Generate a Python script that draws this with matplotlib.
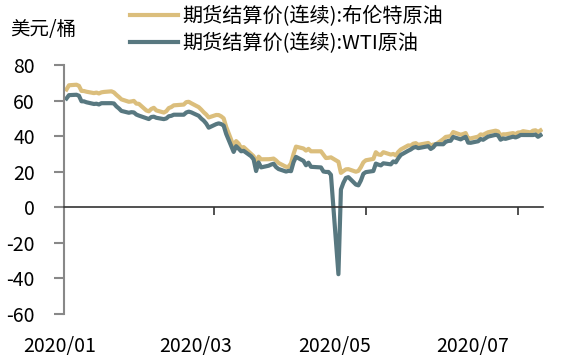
import matplotlib
matplotlib.use('Agg')
from matplotlib import pyplot as plt
import pandas as pd

plt.rcParams['font.family'] = ['Noto Sans CJK SC', 'DejaVu Sans']
plt.rcParams['axes.unicode_minus'] = False

# 日期 (2020)
dates = (
    ['01-02', '01-03', '01-06', '01-07', '01-08', '01-09', '01-10', '01-13', '01-14', '01-15', '01-16',
     '01-17', '01-20', '01-21', '01-22', '01-23', '01-24', '01-27', '01-28', '01-29', '01-30', '01-31'] +
    ['02-03', '02-04', '02-05', '02-06', '02-07', '02-10', '02-11', '02-12', '02-13', '02-14',
     '02-17', '02-18', '02-19', '02-20', '02-21', '02-24', '02-25', '02-26', '02-27', '02-28'] +
    ['03-02', '03-03', '03-04', '03-05', '03-06', '03-09', '03-10', '03-11', '03-12', '03-13', '03-16',
     '03-17', '03-18', '03-19', '03-20', '03-23', '03-24', '03-25', '03-26', '03-27', '03-30', '03-31'] +
    ['04-01', '04-02', '04-03', '04-06', '04-07', '04-08', '04-09', '04-13', '04-14', '04-15', '04-16',
     '04-17', '04-20', '04-21', '04-22', '04-23', '04-24', '04-27', '04-28', '04-29', '04-30'] +
    ['05-01', '05-04', '05-05', '05-06', '05-07', '05-08', '05-11', '05-12', '05-13', '05-14',
     '05-15', '05-18', '05-19', '05-20', '05-21', '05-22', '05-26', '05-27', '05-28', '05-29'] +
    ['06-01', '06-02', '06-03', '06-04', '06-05', '06-08', '06-09', '06-10', '06-11', '06-12', '06-15',
     '06-16', '06-17', '06-18', '06-19', '06-22', '06-23', '06-24', '06-25', '06-26', '06-29', '06-30'] +
    ['07-01', '07-02', '07-03', '07-06', '07-07', '07-08', '07-09', '07-10']
)

brent = (
    [66.25, 68.60, 68.91, 68.27, 65.44, 65.37, 64.98, 64.20, 64.49, 64.00, 64.62,
     64.85, 65.20, 64.59, 63.21, 62.04, 60.69, 59.32, 59.51, 59.81, 58.29, 58.16] +
    [54.45, 53.96, 55.28, 55.93, 54.47, 53.27, 54.01, 55.79, 56.34, 57.32,
     57.67, 57.75, 59.12, 59.31, 58.50, 56.30, 54.95, 53.43, 52.18, 50.52] +
    [51.90, 51.86, 51.13, 49.99, 45.27, 34.36, 37.22, 35.79, 33.22, 33.85, 30.05,
     28.73, 24.88, 28.47, 26.98, 27.03, 27.15, 27.39, 26.34, 24.93, 22.76, 22.74] +
    [24.74, 29.94, 34.11, 33.05, 31.87, 32.84, 31.48, 31.48, 29.60, 27.69, 27.82,
     28.08, 25.57, 19.33, 20.37, 21.33, 21.44, 19.99, 20.46, 22.54, 25.27] +
    [26.44, 27.20, 30.97, 29.72, 29.46, 30.97, 29.63, 29.98, 29.19, 31.13,
     32.50, 34.81, 34.65, 35.75, 36.06, 35.13, 36.17, 34.74, 35.29, 35.33] +
    [38.32, 39.57, 39.79, 39.99, 42.30, 40.80, 41.18, 41.73, 38.55, 38.73, 39.72,
     40.96, 40.71, 41.51, 42.19, 43.08, 42.63, 40.31, 41.05, 41.02, 41.71, 41.15] +
    [42.03, 42.14, 42.80, 42.10, 43.08, 43.29, 42.35, 43.24]
)

wti = (
    [61.18, 63.05, 63.27, 62.70, 59.61, 59.56, 59.04, 58.08, 58.23, 57.81, 58.52,
     58.54, 58.54, 58.38, 56.74, 55.59, 54.19, 53.14, 53.48, 53.33, 52.14, 51.56] +
    [50.11, 49.61, 50.75, 50.95, 50.32, 49.57, 49.94, 51.17, 51.42, 52.05,
     52.05, 52.05, 53.29, 53.78, 53.38, 51.43, 49.90, 48.73, 47.09, 44.76] +
    [46.75, 47.18, 46.78, 45.90, 41.28, 31.13, 34.36, 32.98, 31.50, 31.73, 28.70,
     26.95, 20.37, 25.22, 22.43, 23.36, 24.01, 24.49, 22.60, 21.51, 20.09, 20.48] +
    [20.31, 25.32, 28.34, 26.08, 23.63, 25.09, 22.76, 22.41, 20.11, 19.87, 19.87,
     18.27, -37.63, 10.01, 13.78, 16.50, 16.94, 12.78, 12.34, 15.06, 18.84] +
    [19.78, 20.39, 24.56, 23.99, 23.55, 24.74, 24.14, 25.78, 25.29, 27.56,
     29.43, 31.82, 32.50, 33.49, 33.92, 33.25, 34.35, 32.81, 33.71, 35.49] +
    [35.44, 36.81, 37.29, 37.41, 39.55, 38.19, 38.94, 39.60, 36.34, 36.26, 37.12,
     38.38, 37.96, 38.84, 39.75, 40.73, 40.37, 38.01, 38.72, 38.49, 39.70, 39.27] +
    [39.82, 40.65, 40.65, 40.63, 40.62, 40.90, 39.62, 40.55]
)

x_ticks = ['2020-01-01', '2020-03-01', '2020-05-01', '2020-07-01']
x_labels = ['2020/01', '2020/03', '2020/05', '2020/07']
y_ticks = [-60, -40, -20, 0, 20, 40, 60, 80]

x = pd.to_datetime(['2020-' + d for d in dates])
xmin, xmax = pd.Timestamp('2020-01-01'), pd.Timestamp('2020-07-11')

W, H = 572, 363
fig = plt.figure(figsize=(W / 100, H / 100), dpi=100)
ax = fig.add_axes([64 / W, 1 - 314 / H, (543 - 64) / W, (314 - 65) / H])

l1, = ax.plot(x, brent, color='#DBBE7C', lw=3, solid_joinstyle='round')
l2, = ax.plot(x, wti, color='#587880', lw=3, solid_joinstyle='round')

ax.set_xlim(xmin, xmax)
ax.set_ylim(-60, 80)
ax.set_yticks(y_ticks)
ax.set_yticklabels([str(v) for v in y_ticks], fontsize=14)
ax.tick_params(axis='y', direction='out', length=7, width=1.5, color='#888888', pad=14)

ax.spines['top'].set_visible(False)
ax.spines['right'].set_visible(False)
ax.spines['left'].set_color('#888888')
ax.spines['left'].set_linewidth(1.5)
ax.spines['bottom'].set_position(('data', 0))
ax.spines['bottom'].set_color('#333333')
ax.spines['bottom'].set_linewidth(1.2)
ax.set_xticks(pd.to_datetime(x_ticks))
ax.tick_params(axis='x', direction='out', length=6, width=1.2, color='#333333', labelbottom=False)

# 横轴标签 (原图标签间距比刻度略窄)
axl = fig.add_axes([60 / W, 1 - 314 / H, 435 / W, 0.001])
axl.set_xlim(xmin, xmax)
axl.set_xticks(pd.to_datetime(x_ticks))
axl.set_xticklabels(x_labels, fontsize=14)
axl.tick_params(axis='x', length=0, pad=16)
axl.set_yticks([])
for s in axl.spines.values():
    s.set_visible(False)
axl.patch.set_alpha(0)

fig.text(10 / W, 1 - 30 / H, '美元/桶', fontsize=14, va='center', ha='left')

fig.legend([l1, l2], ['期货结算价(连续):布伦特原油', '期货结算价(连续):WTI原油'],
           loc='upper left', bbox_to_anchor=(130 / W, 1 - 6 / H), frameon=False,
           fontsize=14.5, handlelength=2.4, handletextpad=0.2, labelspacing=0.3,
           borderpad=0, borderaxespad=0)

fig.savefig('out.png', dpi=100)
